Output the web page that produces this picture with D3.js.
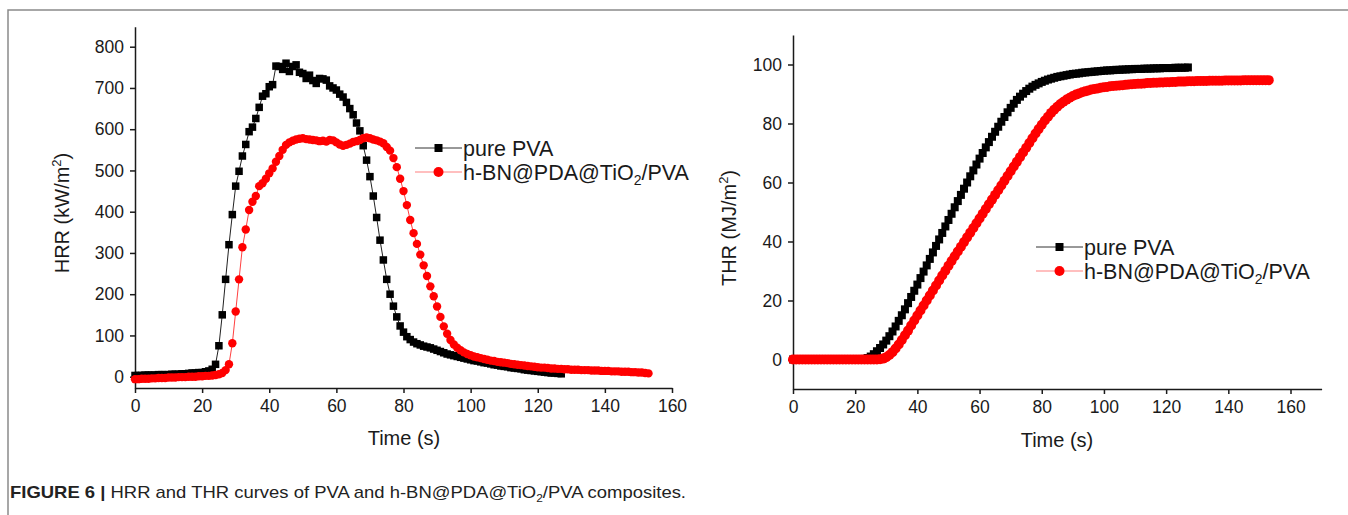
<!DOCTYPE html>
<html>
<head>
<meta charset="utf-8">
<script src="https://cdn.jsdelivr.net/npm/d3@7"></script>
<style>
  body { margin: 0; background: #fff; }
  svg { display: block; font-family: "Liberation Sans", Arial, sans-serif; }
  .axis path, .axis line { stroke: #1a1a1a; stroke-width: 1.5; }
  .axis text { font-size: 17.5px; fill: #1a1a1a; }
</style>
</head>
<body>
<svg id="chart"></svg>
<script>
// time axis: one reading per second, index = seconds
const hrrPure = [
  3, 3, 3, 4, 4, 4, 4, 5, 5, 5, 5, 6, 6, 6, 7, 7, 8, 9, 9, 10,
  10, 12, 14, 18, 30, 75, 150, 236, 320, 393, 462, 498, 535, 563, 594, 605, 626, 653, 680, 686,
  703, 708, 753, 752, 745, 760, 740, 752, 756, 738, 735, 723, 731, 718, 711, 723, 722, 719, 705, 700,
  695, 685, 678, 665, 650, 635, 615, 596, 560, 525, 485, 438, 386, 331, 283, 236, 200, 171, 145, 123,
  108, 97, 90, 84, 80, 77, 74, 72, 70, 67, 64, 61, 58, 55, 53, 51, 49, 47, 45, 43,
  41, 39, 38, 36, 34, 33, 31, 29, 28, 26, 25, 24, 22, 21, 20, 19, 17, 16, 15, 14,
  13, 12, 11, 10, 9, 9, 8, 7
];

const hrrComposite = [
  -6, -6, -5, -5, -5, -4, -4, -3, -3, -3, -2, -2, -2, -1, -1, -1, 0, 0, 0, 1,
  1, 2, 2, 3, 4, 6, 9, 16, 30, 81, 158, 236, 314, 357, 404, 424, 438, 462, 469, 480,
  493, 505, 521, 535, 550, 562, 568, 572, 575, 577, 578, 576, 575, 574, 573, 571, 572, 570, 574, 573,
  568, 563, 560, 562, 565, 569, 571, 574, 578, 580, 578, 575, 573, 570, 566, 557, 548, 530, 508, 480,
  450, 416, 380, 348, 322, 296, 270, 244, 219, 195, 170, 145, 122, 104, 89, 78, 70, 64, 59, 55,
  52, 49, 47, 45, 43, 41, 39, 38, 36, 35, 34, 33, 31, 30, 29, 28, 27, 26, 25, 24,
  23, 22, 22, 21, 20, 20, 19, 19, 18, 18, 17, 17, 17, 16, 16, 16, 15, 15, 15, 14,
  14, 14, 13, 13, 13, 12, 12, 12, 11, 11, 10, 10, 9, 8
];

const thrPure = [
  0, 0, 0, 0, 0, 0, 0, 0, 0, 0, 0, 0, 0, 0, 0, 0, 0, 0, 0, 0,
  0, 0, 0, 0.2, 0.5, 1.0, 1.8, 2.8, 3.9, 5.1, 6.4, 7.9, 9.5, 11.2, 13.1, 15.0, 17.0, 19.1, 21.2, 23.3,
  25.4, 27.6, 29.8, 31.9, 34.1, 36.3, 38.5, 40.7, 42.9, 45.1, 47.3, 49.4, 51.6, 53.7, 55.8, 57.9, 60.0, 62.1, 64.1, 66.1,
  68.1, 70.0, 71.9, 73.7, 75.5, 77.2, 78.9, 80.6, 82.2, 83.8, 85.3, 86.7, 88.0, 89.1, 90.1, 91.0, 91.8, 92.5, 93.1, 93.6,
  94.1, 94.5, 94.9, 95.2, 95.5, 95.8, 96.0, 96.2, 96.4, 96.6, 96.8, 96.9, 97.0, 97.2, 97.3, 97.4, 97.5, 97.6, 97.7, 97.8,
  97.9, 98.0, 98.0, 98.1, 98.2, 98.2, 98.3, 98.3, 98.4, 98.4, 98.5, 98.5, 98.5, 98.6, 98.6, 98.6, 98.7, 98.7, 98.7, 98.8,
  98.8, 98.8, 98.8, 98.9, 98.9, 98.9, 98.9, 99.0
];

const thrComposite = [
  0, 0, 0, 0, 0, 0, 0, 0, 0, 0, 0, 0, 0, 0, 0, 0, 0, 0, 0, 0,
  0, 0, 0, 0, 0, 0, 0, 0, 0.1, 0.3, 0.8, 1.5, 2.5, 3.7, 5.1, 6.6, 8.2, 9.8, 11.5, 13.2,
  14.9, 16.6, 18.3, 20.0, 21.7, 23.4, 25.1, 26.8, 28.5, 30.1, 31.8, 33.4, 35.0, 36.6, 38.2, 39.8, 41.4, 43.0, 44.6, 46.2,
  47.8, 49.4, 51.0, 52.6, 54.2, 55.8, 57.4, 59.0, 60.6, 62.2, 63.8, 65.4, 67.0, 68.6, 70.2, 71.8, 73.4, 75.0, 76.6, 78.1,
  79.6, 81.0, 82.3, 83.6, 84.7, 85.7, 86.6, 87.4, 88.1, 88.7, 89.3, 89.8, 90.2, 90.6, 90.9, 91.2, 91.5, 91.7, 91.9, 92.1,
  92.3, 92.4, 92.6, 92.7, 92.8, 92.9, 93.0, 93.1, 93.2, 93.3, 93.4, 93.5, 93.5, 93.6, 93.7, 93.7, 93.8, 93.8, 93.9, 93.9,
  94.0, 94.0, 94.1, 94.1, 94.2, 94.2, 94.2, 94.3, 94.3, 94.3, 94.4, 94.4, 94.4, 94.4, 94.5, 94.5, 94.5, 94.5, 94.5, 94.6,
  94.6, 94.6, 94.6, 94.6, 94.6, 94.7, 94.7, 94.7, 94.7, 94.7, 94.7, 94.7, 94.7, 94.7
];

const seriesNames = ['pure PVA', 'h-BN@PDA@TiO', '/PVA'];
const xTicks = [0, 20, 40, 60, 80, 100, 120, 140, 160];
const hrrTicks = [0, 100, 200, 300, 400, 500, 600, 700, 800];
const thrTicks = [0, 20, 40, 60, 80, 100];

const fullWidth = 1348;
const fullHeight = 515;

const svg = d3.select('#chart')
    .attr('width', fullWidth)
    .attr('height', fullHeight);

// figure frame (top + left edge only)
svg.append('path')
    .attr('d', 'M8,515V10H1348')
    .attr('fill', 'none')
    .attr('stroke', '#8a8a8a')
    .attr('stroke-width', 1.5);

function toPoints(values) {
    return values.map((v, i) => ({t: i, v}));
}

function drawPanel(opts) {
    const x = d3.scaleLinear().domain(opts.xDomain).range(opts.xRange);
    const y = d3.scaleLinear().domain(opts.yDomain).range(opts.yRange);

    const g = svg.append('g');

    g.append('g')
        .attr('class', 'axis')
        .attr('transform', `translate(0,${opts.yRange[0]})`)
        .call(d3.axisBottom(x).tickValues(xTicks).tickSize(5).tickSizeOuter(0).tickPadding(7));

    g.append('g')
        .attr('class', 'axis')
        .attr('transform', `translate(${opts.xRange[0]},0)`)
        .call(d3.axisLeft(y).tickValues(opts.yTicks).tickSize(5).tickSizeOuter(0).tickPadding(6));

    // axis titles
    g.append('text')
        .attr('x', opts.xTitlePos[0])
        .attr('y', opts.xTitlePos[1])
        .attr('text-anchor', 'middle')
        .attr('font-size', 20)
        .attr('fill', '#1a1a1a')
        .text('Time (s)');

    const yt = g.append('text')
        .attr('transform', `translate(${opts.yTitlePos[0]},${opts.yTitlePos[1]}) rotate(-90)`)
        .attr('text-anchor', 'middle')
        .attr('font-size', 20)
        .attr('fill', '#1a1a1a');
    yt.append('tspan').text(opts.yTitle);
    yt.append('tspan').attr('font-size', 13).attr('dy', -8).text('2');
    yt.append('tspan').attr('dy', 8).text(')');

    const line = d3.line().x(d => x(d.t)).y(d => y(d.v));

    const pure = toPoints(opts.pure);
    const comp = toPoints(opts.composite);

    g.append('path').datum(pure)
        .attr('d', line).attr('fill', 'none')
        .attr('stroke', '#222').attr('stroke-width', 1);

    g.selectAll('.sq').data(pure).enter().append('rect')
        .attr('x', d => x(d.t) - opts.sq / 2)
        .attr('y', d => y(d.v) - opts.sq / 2)
        .attr('width', opts.sq).attr('height', opts.sq)
        .attr('fill', '#000');

    g.append('path').datum(comp)
        .attr('d', line).attr('fill', 'none')
        .attr('stroke', '#ff4040').attr('stroke-width', 1);

    g.selectAll('.dot').data(comp).enter().append('circle')
        .attr('cx', d => x(d.t))
        .attr('cy', d => y(d.v))
        .attr('r', opts.r)
        .attr('fill', '#ff0000');

    // legend
    const lg = g.append('g').attr('transform', `translate(${opts.legendPos[0]},${opts.legendPos[1]})`);
    lg.append('line').attr('x1', 0).attr('x2', 47).attr('y1', 0).attr('y2', 0)
        .attr('stroke', '#333').attr('stroke-width', 1);
    lg.append('rect').attr('x', 19.5).attr('y', -4).attr('width', 8).attr('height', 8).attr('fill', '#000');
    lg.append('text').attr('x', 48).attr('y', 7.5).attr('font-size', 21.5).attr('fill', '#1a1a1a')
        .text(seriesNames[0]);

    lg.append('line').attr('x1', 0).attr('x2', 47).attr('y1', 24).attr('y2', 24)
        .attr('stroke', '#ff8080').attr('stroke-width', 1.2);
    lg.append('circle').attr('cx', 23.5).attr('cy', 24).attr('r', 5).attr('fill', '#ff0000');
    const t2 = lg.append('text').attr('x', 48).attr('y', 31.5).attr('font-size', 21.5).attr('fill', '#1a1a1a');
    t2.append('tspan').text(seriesNames[1]);
    t2.append('tspan').attr('font-size', 14).attr('dy', 5).text('2');
    t2.append('tspan').attr('dy', -5).text(seriesNames[2]);
}

drawPanel({
    xDomain: [0, 160], xRange: [135, 672],
    yDomain: [-27.4, 848.5], yRange: [388, 26.7],
    yTicks: hrrTicks,
    pure: hrrPure, composite: hrrComposite,
    sq: 7.5, r: 4.2,
    xTitlePos: [404, 445],
    yTitlePos: [69, 213],
    yTitle: 'HRR (kW/m',
    legendPos: [415, 148]
});

drawPanel({
    xDomain: [0, 170], xRange: [793, 1321.6],
    yDomain: [-10, 110], yRange: [389, 35],
    yTicks: thrTicks,
    pure: thrPure, composite: thrComposite,
    sq: 8, r: 5,
    xTitlePos: [1057, 447],
    yTitlePos: [736, 228],
    yTitle: 'THR (MJ/m',
    legendPos: [1036, 247]
});

// caption
const cap = svg.append('text')
    .attr('x', 10)
    .attr('y', 498)
    .attr('font-size', 17)
    .attr('fill', '#222')
    .attr('textLength', 676)
    .attr('lengthAdjust', 'spacingAndGlyphs')
    .style('font-family', '"Liberation Sans Narrow", "Liberation Sans", Arial, sans-serif');
cap.append('tspan').attr('font-weight', 'bold').text('FIGURE 6 |');
cap.append('tspan').text(' HRR and THR curves of PVA and h-BN@PDA@TiO');
cap.append('tspan').attr('font-size', 11).attr('dy', 4).text('2');
cap.append('tspan').attr('dy', -4).text('/PVA composites.');
</script>
</body>
</html>
